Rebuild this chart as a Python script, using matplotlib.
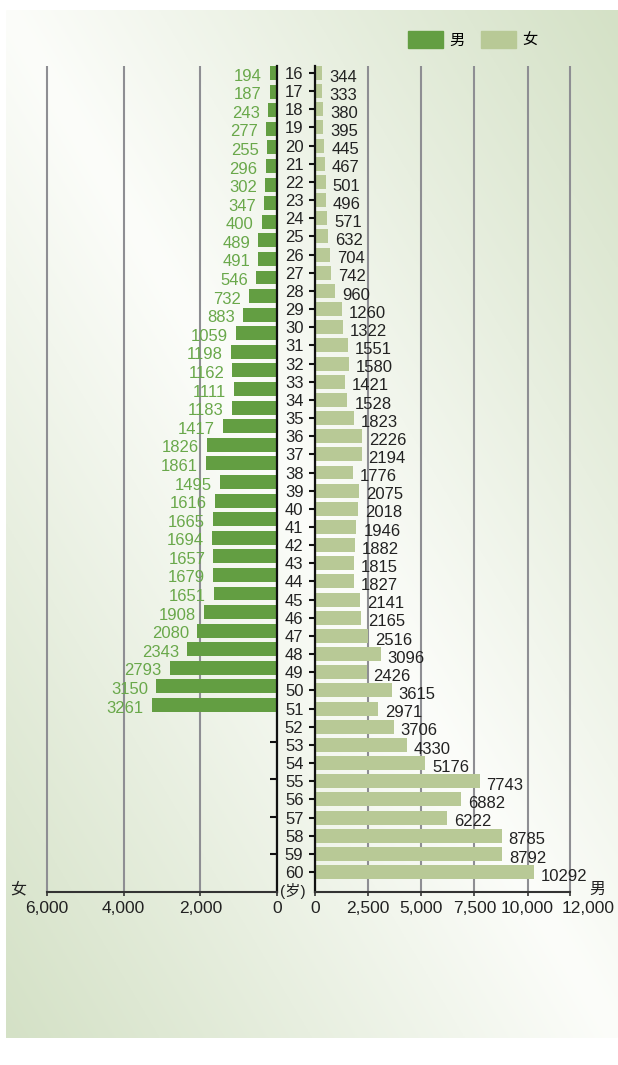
import numpy as np
import matplotlib
matplotlib.use('Agg')
import matplotlib.pyplot as plt
from matplotlib.patches import Patch

plt.rcParams['font.family'] = ['Liberation Sans', 'Noto Sans CJK SC']

# --- data ---
ages = ['16', '17', '18', '19', '20', '21', '22', '23', '24', '25',
        '26', '27', '28', '29', '30', '31', '32', '33', '34', '35',
        '36', '37', '38', '39', '40', '41', '42', '43', '44', '45',
        '46', '47', '48', '49', '50', '51', '52', '53', '54', '55',
        '56', '57', '58', '59', '60']

# left panel (dark green, 男 in legend)
left_values = [194, 187, 243, 277, 255, 296, 302, 347, 400, 489,
               491, 546, 732, 883, 1059, 1198, 1162, 1111, 1183, 1417,
               1826, 1861, 1495, 1616, 1665, 1694, 1657, 1679, 1651, 1908,
               2080, 2343, 2793, 3150, 3261]

# right panel (light green, 女 in legend)
right_values = [344, 333, 380, 395, 445, 467, 501, 496, 571, 632,
                704, 742, 960, 1260, 1322, 1551, 1580, 1421, 1528, 1823,
                2226, 2194, 1776, 2075, 2018, 1946, 1882, 1815, 1827, 2141,
                2165, 2516, 3096, 2426, 3615, 2971, 3706, 4330, 5176, 7743,
                6882, 6222, 8785, 8792, 10292]

left_ticks = [6000, 4000, 2000, 0]
left_ticklabels = ['6,000', '4,000', '2,000', '0']
right_ticks = [0, 2500, 5000, 7500, 10000, 12000]
right_ticklabels = ['0', '2,500', '5,000', '7,500', '10,000', '12,000']

DARK = '#639e42'
LIGHT = '#b8c996'
LTEXT = '#69a84a'
GRID = '#8e8e93'
TXT = '#222222'

W, H = 618, 1065
fig = plt.figure(figsize=(W / 100, H / 100), dpi=100)


def px(x0, y0, x1, y1):
    return [x0 / W, 1 - y1 / H, (x1 - x0) / W, (y1 - y0) / H]


# background gradient panel
bg = fig.add_axes(px(6, 10, 618, 1038), zorder=-10)
u = np.linspace(0, 1, 300)
v = np.linspace(0, 1, 500)
U, V = np.meshgrid(u, v)
t = np.clip(np.abs(U - V), 0, 1)
white = np.array([252, 253, 250]) / 255
green = np.array([212, 225, 198]) / 255
bg.imshow(white + (green - white) * t[..., None], aspect='auto')
bg.axis('off')

# --- left panel ---
ax_l = fig.add_axes(px(44.5, 66, 277, 892))
ax_l.set_facecolor('none')
ax_l.barh(range(len(left_values)), left_values, height=0.75, color=DARK)
ax_l.set_xlim(6060, 0)
ax_l.set_ylim(44.06, -0.377)
ax_l.set_axisbelow(True)
ax_l.set_xticks(left_ticks)
ax_l.set_xticklabels(left_ticklabels)
ax_l.xaxis.grid(True, color=GRID, lw=1.5)
ax_l.tick_params(axis='x', direction='out', length=3, width=1.2, color='#333',
                 labelsize=12.5, pad=3.5, labelcolor=TXT)
ax_l.yaxis.tick_right()
ax_l.set_yticks(range(0, 44, 2))
ax_l.tick_params(axis='y', direction='in', length=5, width=1.5, color='#111',
                 labelright=False, right=True, left=False)
for s in ['top', 'left']:
    ax_l.spines[s].set_visible(False)
ax_l.spines['right'].set_linewidth(1.6)
ax_l.spines['right'].set_color('#111')
ax_l.spines['bottom'].set_linewidth(1.5)
ax_l.spines['bottom'].set_color('#333')
ax_l.spines['bottom'].set_bounds(0, 6000)

for i, val in enumerate(left_values):
    ax_l.annotate(str(val), (val, i), xytext=(-5.8, -2.2), textcoords='offset points',
                  ha='right', va='center', color=LTEXT, fontsize=12)

# --- right panel ---
ax_r = fig.add_axes(px(315, 66, 572, 892))
ax_r.set_facecolor('none')
ax_r.barh(range(len(right_values)), right_values, height=0.77, color=LIGHT)
ax_r.set_xlim(0, 12094)
ax_r.set_ylim(45.1, -0.385)
ax_r.set_axisbelow(True)
ax_r.set_xticks(right_ticks)
# last label is drawn separately, shifted right of its tick as in the original
ax_r.set_xticklabels(right_ticklabels[:-1] + [''])
ax_r.annotate(right_ticklabels[-1], xy=(right_ticks[-1], 0),
              xycoords=('data', 'axes fraction'), xytext=(-6, -6.5),
              textcoords='offset points', ha='left', va='top',
              fontsize=12.5, color=TXT, annotation_clip=False)
ax_r.xaxis.grid(True, color=GRID, lw=1.5)
ax_r.tick_params(axis='x', direction='out', length=3, width=1.2, color='#333',
                 labelsize=12.5, pad=3.5, labelcolor=TXT)
ax_r.set_yticks(range(len(ages)))
ax_r.set_yticklabels(ages)
ax_r.tick_params(axis='y', direction='out', length=4.3, width=1.5, color='#111',
                 pad=4, labelsize=12, labelcolor=TXT)
for s in ['top', 'right']:
    ax_r.spines[s].set_visible(False)
ax_r.spines['left'].set_linewidth(1.6)
ax_r.spines['left'].set_color('#111')
ax_r.spines['bottom'].set_linewidth(1.5)
ax_r.spines['bottom'].set_color('#333')
ax_r.spines['bottom'].set_bounds(0, 12000)

for i, val in enumerate(right_values):
    ax_r.annotate(str(val), (val, i), xytext=(5, -3), textcoords='offset points',
                  ha='left', va='center', color=TXT, fontsize=12)

# --- extra labels ---
fig.text(293 / W, 1 - 891 / H, '(岁)', ha='center', va='center', fontsize=11, color=TXT)
fig.text(18 / W, 1 - 889 / H, '女', ha='center', va='center', fontsize=11.5, color=TXT)
fig.text(597 / W, 1 - 889 / H, '男', ha='center', va='center', fontsize=11.5, color=TXT)

fig.legend(handles=[Patch(color=DARK, label='男'), Patch(color=LIGHT, label='女')],
           loc='upper left', bbox_to_anchor=(408 / W, 1 - 31 / H), ncol=2,
           frameon=False, fontsize=11, handlelength=2.3, handleheight=1.3,
           handletextpad=0.4, columnspacing=1.1, borderpad=0, borderaxespad=0)

fig.savefig('out.png', dpi=100)
